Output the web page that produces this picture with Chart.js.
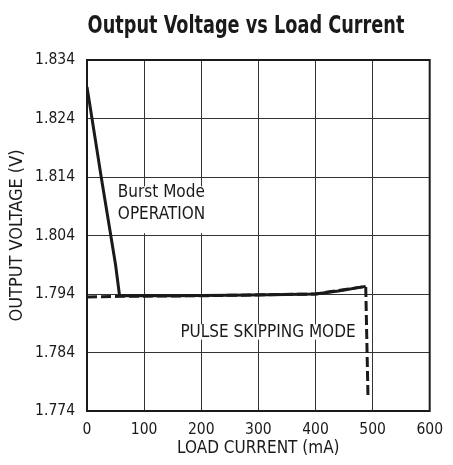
<!DOCTYPE html>
<html>
<head>
<meta charset="utf-8">
<script src="https://cdn.jsdelivr.net/npm/chart.js@4.4.1/dist/chart.umd.min.js"></script>
<style>
  html, body { margin: 0; padding: 0; background: #fff; }
  #wrap { width: 453px; height: 465px; }
</style>
</head>
<body>
<div id="wrap"><canvas id="chart" width="453" height="465"></canvas></div>
<script>
// --- DATOS ---
const chartTitle = 'Output Voltage vs Load Current';
const xTicks = [0, 100, 200, 300, 400, 500, 600];
const yTicks = [1.774, 1.784, 1.794, 1.804, 1.814, 1.824, 1.834];

// Burst Mode (línea continua)
const burstCurrent = [0, 12, 25, 40, 50, 57, 150, 250, 350, 400, 440, 488];
const burstVoltage = [1.8294, 1.822, 1.8139, 1.805, 1.799, 1.7937, 1.7937, 1.7938, 1.7939, 1.7940, 1.7945, 1.7953];

// Pulse skipping (línea discontinua)
const pulseCurrent = [0, 57, 200, 400, 488, 492];
const pulseVoltage = [1.7935, 1.7936, 1.7937, 1.7940, 1.7953, 1.7762];

// Etiquetas dentro del gráfico: [texto, x (mA), y (V)]
const notes = [
    ['Burst Mode', 54, 1.8113],
    ['OPERATION', 54, 1.8076],
    ['PULSE SKIPPING MODE', 163.5, 1.7874]
];
// cajas blancas detrás del texto: [x0, x1, y0, y1] en unidades de datos
const noteBoxes = [
    [45, 206, 1.8044, 1.8124],
    [157, 480, 1.7862, 1.7888]
];

const FONT = "'Liberation Sans Narrow', 'DejaVu Sans Condensed', 'Roboto', sans-serif";
const INK = '#1a1a1a';

const toPoints = (xs, ys) => xs.map((x, i) => ({ x: x, y: ys[i] }));

// --- PLUGIN: título, cajas, textos y marco ---
const decor = {
    id: 'decor',
    beforeDatasetsDraw(chart) {
        const { ctx, scales: { x, y } } = chart;
        ctx.save();
        ctx.fillStyle = '#fff';
        noteBoxes.forEach(b => {
            const x0 = x.getPixelForValue(b[0]), x1 = x.getPixelForValue(b[1]);
            const y0 = y.getPixelForValue(b[3]), y1 = y.getPixelForValue(b[2]);
            ctx.fillRect(x0, y0, x1 - x0, y1 - y0);
        });
        ctx.fillStyle = INK;
        ctx.font = `17px ${FONT}`;
        ctx.textAlign = 'left';
        ctx.textBaseline = 'middle';
        notes.forEach(n => {
            ctx.fillText(n[0], x.getPixelForValue(n[1]), y.getPixelForValue(n[2]));
        });
        ctx.restore();
    },
    afterDraw(chart) {
        const { ctx, chartArea: a } = chart;
        ctx.save();
        ctx.strokeStyle = INK;
        ctx.lineWidth = 2;
        ctx.strokeRect(a.left, a.top, a.right - a.left, a.bottom - a.top);
        // título: fuente condensada a mano
        ctx.fillStyle = INK;
        ctx.font = `bold 24px ${FONT}`;
        ctx.textAlign = 'center';
        ctx.textBaseline = 'alphabetic';
        ctx.translate(246, 33);
        ctx.scale(0.82, 1);
        ctx.fillText(chartTitle, 0, 0);
        ctx.restore();
    }
};

new Chart(document.getElementById('chart'), {
    type: 'scatter',
    data: {
        datasets: [
            {
                label: 'Burst Mode',
                data: toPoints(burstCurrent, burstVoltage),
                showLine: true,
                borderColor: INK,
                borderWidth: 3,
                pointRadius: 0,
                tension: 0
            },
            {
                label: 'Pulse Skipping',
                data: toPoints(pulseCurrent, pulseVoltage),
                showLine: true,
                borderColor: INK,
                borderWidth: 3,
                borderDash: [10, 4],
                pointRadius: 0,
                tension: 0
            }
        ]
    },
    options: {
        responsive: false,
        animation: false,
        layout: { padding: { top: 60, right: 16, left: 0, bottom: 0 } },
        plugins: { legend: { display: false }, tooltip: { enabled: false }, title: { display: false } },
        scales: {
            x: {
                type: 'linear',
                min: 0, max: 600,
                afterBuildTicks: s => { s.ticks = xTicks.map(v => ({ value: v })); },
                afterFit: s => { s.height = 54; },
                ticks: { color: INK, font: { family: FONT, size: 15.5 }, padding: 10, maxRotation: 0 },
                grid: { color: '#333', lineWidth: 1, drawTicks: false },
                border: { display: false },
                title: { display: true, text: 'LOAD CURRENT (mA)', color: INK, font: { family: FONT, size: 17 }, padding: { top: 0, bottom: 6 } }
            },
            y: {
                type: 'linear',
                min: 1.774, max: 1.834,
                afterBuildTicks: s => { s.ticks = yTicks.map(v => ({ value: v })); },
                afterFit: s => { s.width = 87; },
                ticks: { color: INK, font: { family: FONT, size: 15.5 }, padding: 12, callback: v => v.toFixed(3) },
                grid: { color: '#333', lineWidth: 1, drawTicks: false },
                border: { display: false },
                title: { display: true, text: 'OUTPUT VOLTAGE (V)', color: INK, font: { family: FONT, size: 18 }, padding: { top: 7, bottom: 0 } }
            }
        }
    },
    plugins: [decor]
});
</script>
</body>
</html>
